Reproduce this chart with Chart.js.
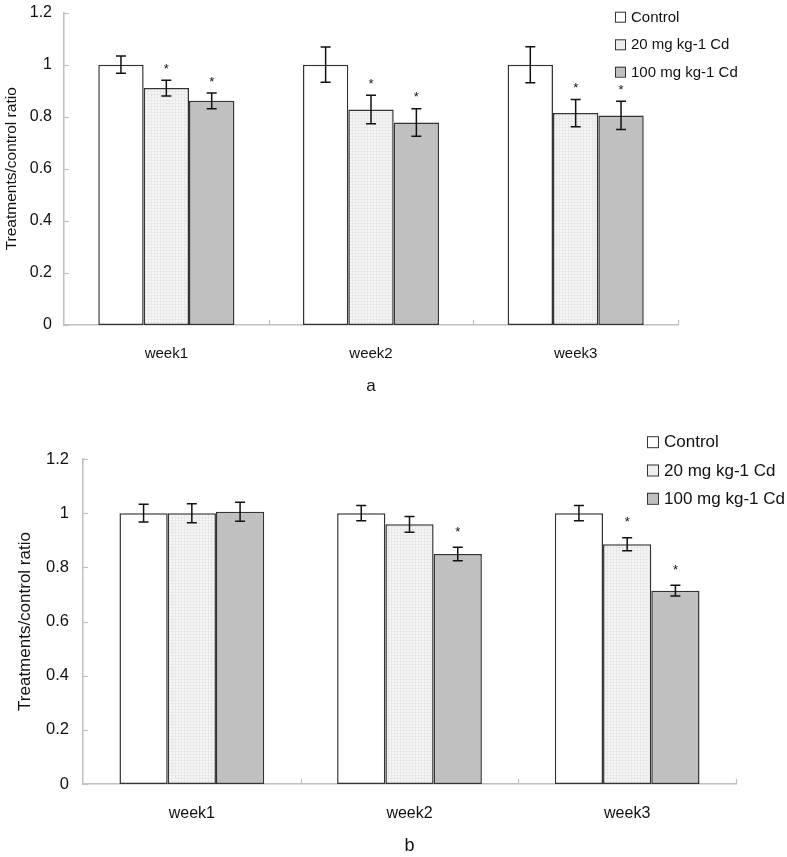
<!DOCTYPE html>
<html>
<head>
<meta charset="utf-8">
<script src="https://cdn.jsdelivr.net/npm/chart.js@4.4.1/dist/chart.umd.min.js"></script>
<style>
  html, body { margin: 0; padding: 0; background: #fff; overflow: hidden; }
  canvas { position: absolute; left: 0; }
  #chartA { top: -9px; }
  #chartB { top: 420px; }
</style>
</head>
<body>
<canvas id="chartA" width="787" height="419"></canvas>
<canvas id="chartB" width="787" height="437"></canvas>
<script>
const weeks = ['week1', 'week2', 'week3'];
const seriesNames = ['Control', '20 mg kg-1 Cd', '100 mg kg-1 Cd'];
const yTickLabels = ['0', '0.2', '0.4', '0.6', '0.8', '1', '1.2'];

// panel a
const controlA = [1.0, 1.0, 1.0];
const cd20A = [0.910, 0.828, 0.814];
const cd100A = [0.861, 0.778, 0.805];
const errControlA = [0.033, 0.068, 0.069];
const errCd20A = [0.030, 0.055, 0.052];
const errCd100A = [0.030, 0.053, 0.054];
const starsControlA = [false, false, false];
const starsCd20A = [true, true, true];
const starsCd100A = [true, true, true];

// panel b
const controlB = [1.0, 1.0, 1.0];
const cd20B = [1.0, 0.959, 0.885];
const cd100B = [1.005, 0.849, 0.714];
const errControlB = [0.033, 0.028, 0.028];
const errCd20B = [0.035, 0.029, 0.024];
const errCd100B = [0.035, 0.025, 0.020];
const starsControlB = [false, false, false];
const starsCd20B = [false, false, true];
const starsCd100B = [false, true, true];

const FONT = "'Liberation Sans', Arial, sans-serif";

function dottedPattern() {
    const c = document.createElement('canvas');
    c.width = 3; c.height = 3;
    const g = c.getContext('2d');
    g.fillStyle = '#f6f6f6';
    g.fillRect(0, 0, 3, 3);
    g.fillStyle = '#e8e8e8';
    g.fillRect(1, 0, 1, 3);
    g.fillRect(0, 1, 3, 1);
    return g.createPattern(c, 'repeat');
}
const fills = ['#ffffff', dottedPattern(), '#c0c0c0'];
const swatchFills = ['#ffffff', '#eeeeee', '#c0c0c0'];

const barExtras = {
    id: 'barExtras',
    afterDatasetsDraw(chart, args, opts) {
        const ctx = chart.ctx;
        const y = chart.scales.y;
        const x = chart.scales.x;
        const area = chart.chartArea;
        ctx.save();

        // inward tick marks
        ctx.strokeStyle = '#c0c0c0';
        ctx.lineWidth = 1.2;
        y.ticks.forEach(t => {
            const py = Math.round(y.getPixelForValue(t.value)) + 0.5;
            ctx.beginPath();
            ctx.moveTo(area.left, py);
            ctx.lineTo(area.left + 5, py);
            ctx.stroke();
        });
        const step = x.getPixelForValue(1) - x.getPixelForValue(0);
        weeks.forEach((w, i) => {
            const px = Math.round(x.getPixelForValue(i) + step / 2) + 0.5;
            ctx.beginPath();
            ctx.moveTo(px, area.bottom);
            ctx.lineTo(px, area.bottom - 5);
            ctx.stroke();
        });

        // error bars and stars
        ctx.strokeStyle = '#111';
        ctx.lineWidth = 1.5;
        ctx.fillStyle = '#111';
        ctx.font = '13px ' + FONT;
        ctx.textAlign = 'center';
        ctx.textBaseline = 'middle';
        chart.data.datasets.forEach((ds, di) => {
            const meta = chart.getDatasetMeta(di);
            meta.data.forEach((bar, i) => {
                const v = ds.data[i];
                const e = ds.errors[i];
                const top = y.getPixelForValue(v + e);
                const bot = y.getPixelForValue(v - e);
                ctx.beginPath();
                ctx.moveTo(bar.x, top);
                ctx.lineTo(bar.x, bot);
                ctx.moveTo(bar.x - 5, top);
                ctx.lineTo(bar.x + 5, top);
                ctx.moveTo(bar.x - 5, bot);
                ctx.lineTo(bar.x + 5, bot);
                ctx.stroke();
                if (ds.stars[i]) {
                    ctx.fillText('*', bar.x, top - opts.starGap);
                }
            });
        });

        // legend
        ctx.font = opts.legendFont + 'px ' + FONT;
        ctx.textAlign = 'left';
        ctx.textBaseline = 'middle';
        chart.data.datasets.forEach((ds, di) => {
            const ry = opts.legendRows[di];
            const s = opts.swatch;
            ctx.fillStyle = swatchFills[di];
            ctx.fillRect(opts.legendX, ry - s / 2, s, s);
            ctx.strokeStyle = '#333';
            ctx.lineWidth = 1;
            ctx.strokeRect(opts.legendX + 0.5, ry - s / 2 + 0.5, s, s);
            ctx.fillStyle = '#111';
            ctx.fillText(ds.label, opts.legendX + s + 6, ry + 1);
        });
        ctx.restore();
    }
};

function makeChart(id, values, errors, stars, cfg) {
    const datasets = seriesNames.map((name, i) => ({
        label: name,
        data: values[i],
        errors: errors[i],
        stars: stars[i],
        backgroundColor: fills[i],
        borderColor: '#333',
        borderWidth: 1.5,
        borderSkipped: false,
        categoryPercentage: 0.665,
        barPercentage: 1.0
    }));
    return new Chart(document.getElementById(id).getContext('2d'), {
        type: 'bar',
        data: { labels: weeks, datasets: datasets },
        plugins: [barExtras],
        options: {
            responsive: false,
            animation: false,
            layout: { padding: cfg.padding },
            plugins: {
                legend: { display: false },
                tooltip: { enabled: false },
                barExtras: cfg.extras
            },
            scales: {
                x: {
                    grid: { display: false, drawTicks: false },
                    border: { color: '#c0c0c0', width: 1.5 },
                    ticks: { color: '#111', font: { family: FONT, size: cfg.xTickFont }, padding: cfg.xTickPad },
                    title: { display: true, text: cfg.panel, color: '#111', font: { family: FONT, size: cfg.panelFont }, padding: { top: 0, bottom: cfg.panelPad } },
                    afterFit(scale) { scale.height = cfg.xHeight; }
                },
                y: {
                    min: 0,
                    max: 1.2,
                    grid: { display: false, drawTicks: false },
                    border: { color: '#c0c0c0', width: 1.5 },
                    ticks: {
                        stepSize: 0.2,
                        color: '#111',
                        padding: cfg.yTickPad,
                        font: { family: FONT, size: cfg.yTickFont },
                        callback: (v, i) => yTickLabels[i]
                    },
                    title: { display: true, text: 'Treatments/control ratio', color: '#111', font: { family: FONT, size: cfg.titleFont }, padding: { top: cfg.titlePad, bottom: 0 } },
                    afterFit(scale) { scale.width = cfg.yWidth; }
                }
            }
        }
    });
}

makeChart('chartA', [controlA, cd20A, cd100A], [errControlA, errCd20A, errCd100A],
    [starsControlA, starsCd20A, starsCd100A], {
    panel: 'a',
    padding: { left: 0, top: 19, right: 109, bottom: 0 },
    yWidth: 64, xHeight: 85,
    xTickFont: 15, yTickFont: 16, titleFont: 15.5, panelFont: 17,
    xTickPad: 20, yTickPad: 12, titlePad: 2, panelPad: 13,
    extras: { starGap: 11, legendX: 615, legendRows: [25.7, 53.3, 80.7], swatch: 10, legendFont: 15 }
});

makeChart('chartB', [controlB, cd20B, cd100B], [errControlB, errCd20B, errCd100B],
    [starsControlB, starsCd20B, starsCd100B], {
    panel: 'b',
    padding: { left: 0, top: 39, right: 51, bottom: 0 },
    yWidth: 83, xHeight: 73,
    xTickFont: 16, yTickFont: 16.5, titleFont: 17, panelFont: 18,
    xTickPad: 20, yTickPad: 14, titlePad: 15, panelPad: 0,
    extras: { starGap: 15, legendX: 647, legendRows: [21.7, 50, 78.3], swatch: 11, legendFont: 17 }
});
</script>
</body>
</html>
